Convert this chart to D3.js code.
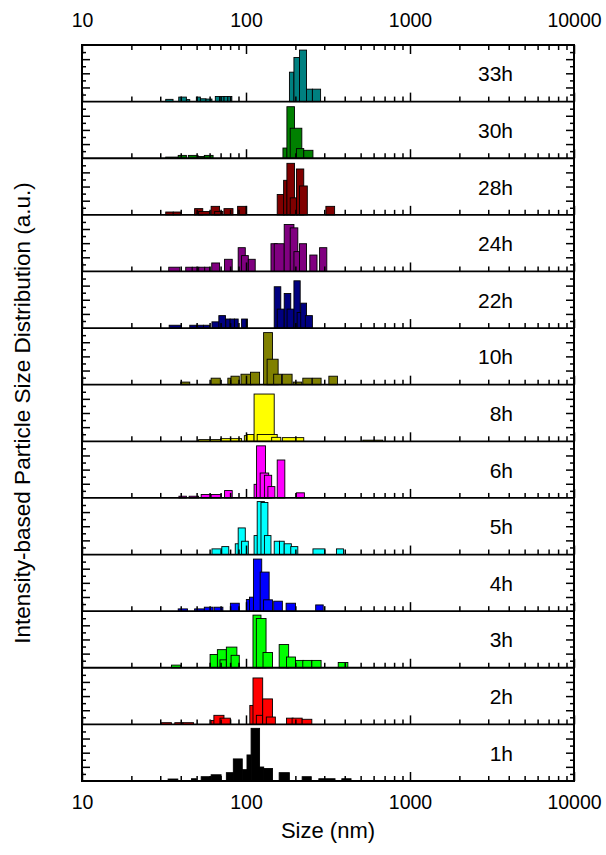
<!DOCTYPE html>
<html>
<head>
<meta charset="utf-8">
<script src="https://cdn.jsdelivr.net/npm/d3@7"></script>
<style>
  body { margin: 0; background: #fff; }
  svg { font-family: Arial, "Liberation Sans", sans-serif; }
</style>
</head>
<body>
<div id="chart"></div>
<script>
// panel order top -> bottom
const times = ["33h", "30h", "28h", "24h", "22h", "10h", "8h", "6h", "5h", "4h", "3h", "2h", "1h"];
const colors = ["#008080", "#008000", "#800000", "#800080", "#000080", "#808000", "#ffff00",
  "#ff00ff", "#00ffff", "#0000ff", "#00ff00", "#ff0000", "#000000"];
const xLabels = [10, 100, 1000, 10000];

// each bar: [size from (nm), size to (nm), intensity (a.u.)]
const bars33h = [[32.4, 35.9, 4], [38.9, 43.3, 8], [43.3, 45.4, 3.5], [49.8, 52.7, 8], [52.7, 57, 5], [57, 62, 4.5],
  [65, 69, 9], [69, 73.5, 9], [73.5, 77.5, 9], [77.5, 82, 9],
  [225, 254, 22], [254, 285, 22], [184, 196, 52], [196, 212, 78], [212, 234, 91]];
const bars30h = [[32.4, 38.6, 2], [38.6, 43.3, 5], [44.5, 51, 5], [51, 56, 3], [55.7, 63, 5],
  [168, 178, 18], [177.6, 197.5, 91], [186, 219, 53], [203, 225, 17], [225, 256, 14]];
const bars28h = [[32.4, 36, 5], [36, 40, 5], [48.6, 54.5, 11], [51.4, 60, 6], [61.3, 69, 15], [64.4, 72.3, 6],
  [73.4, 83.3, 11], [88.9, 100, 15],
  [155, 171, 36], [169.6, 178, 61], [177.6, 197.5, 91], [186, 207, 30], [203, 225, 81], [212, 236.5, 51], [307, 347, 15]];
const bars24h = [[33.8, 39.5, 7.5], [42.9, 47, 7.5], [47, 51.5, 7.5], [51.5, 56, 7.5], [56, 60, 7.5], [61.8, 69, 15],
  [74, 82.4, 21.5], [89.6, 99, 42], [94, 103.3, 28], [103.3, 113.8, 21.5],
  [142, 155, 49], [148.6, 171, 49], [171, 196, 83], [186, 207, 77], [196, 214, 35], [212, 234, 49], [245, 271, 29], [281, 311, 42]];
const bars22h = [[34, 40.4, 5], [45.4, 50, 5], [50, 55, 5], [55, 60, 5], [62, 69, 11], [68.3, 75, 22],
  [75.3, 80, 16], [80, 85, 16], [85, 89.6, 16], [94, 102, 16],
  [148.6, 163, 73], [155, 171, 33.5], [171, 187.5, 61], [178, 196, 33.5], [196, 214, 83.5], [205, 222, 27.6],
  [215.6, 234, 44], [230, 254, 22]];
const bars10h = [[40, 45.4, 4.6], [61.3, 69.7, 11.5], [77.5, 81, 11.5], [81, 91, 15], [93.2, 107.4, 18.5], [106.5, 121, 22],
  [128, 145, 92], [134.5, 157, 45], [147.5, 164.6, 18.5], [166.6, 191, 18.5], [194, 219, 4.6], [222, 252, 11.5],
  [254, 287, 11.5], [320, 361, 15]];
const bars8h = [[51.4, 70, 3], [70, 94, 4.7], [97.7, 102, 10], [101.4, 112, 12], [112, 148.6, 83.5], [117, 155, 12],
  [143.4, 163, 7], [166.6, 225, 6.5], [516, 681, 2]];
const bars6h = [[39, 43.3, 3], [45, 51.4, 3], [53.3, 61.3, 6], [61.3, 70.5, 6], [74, 82.4, 13], [112, 120, 24],
  [116, 131.5, 92], [122, 137.6, 44], [129.5, 143.4, 40], [136, 150, 20], [155, 172.5, 67], [203, 227, 9]];
const bars5h = [[62, 71.2, 10], [71.2, 78.5, 14], [86, 91, 19], [89.6, 99, 47], [94, 103.3, 23.5], [112, 120, 33.5],
  [117, 129.5, 93.5], [123.4, 136, 92], [129.5, 142, 33.5], [148.6, 160, 23.5], [160, 171, 23.5], [171, 189, 19],
  [187.5, 207, 14], [256, 303, 10], [356, 393, 10]];
const bars4h = [[38.6, 44, 4], [48.6, 55.7, 4], [55.7, 63, 7], [64, 72.3, 7], [80.3, 91, 14], [100.5, 107.4, 20.5],
  [105, 113.8, 24.7], [111, 124.7, 92], [122, 138.4, 69], [128, 145, 20], [147.5, 166.6, 17.6], [175.6, 200.5, 14],
  [266, 295.7, 11]];
const bars3h = [[35.1, 40, 4.7], [60.4, 67.7, 23.5], [66.9, 75.9, 32], [69.4, 75.9, 14], [75.9, 88, 36.5], [81.1, 91, 22],
  [110.3, 123.4, 93], [115.6, 132.5, 87], [127, 145, 27], [159.3, 182, 41], [176.5, 200.5, 19], [200.5, 225, 13],
  [222, 252, 13], [252, 287, 13], [365, 418, 9.4]];
const bars2h = [[30.5, 35.1, 3], [36.8, 41.3, 3], [41.3, 47.9, 3], [61.3, 64.4, 7], [63.7, 73.4, 16], [69.4, 80.3, 11],
  [105.5, 111, 33.5], [110.3, 126.4, 82], [115.6, 126.4, 16], [126.4, 145, 45], [133, 151, 13], [176.5, 194, 11],
  [191, 220, 11], [220, 252, 9]];
const bars1h = [[33.5, 38.4, 3.5], [46.5, 49.8, 4], [53.3, 61.3, 7.6], [61.3, 70.5, 11], [75.9, 83.7, 14.7],
  [83.7, 94.9, 39], [94.9, 101.4, 20], [101.4, 107.4, 46], [107.4, 121, 93], [121, 128.2, 24.7], [128.2, 145, 22],
  [159.3, 183.8, 14.7], [220, 250, 7.6], [278, 349, 4], [384, 437, 4]];

const series = [bars33h, bars30h, bars28h, bars24h, bars22h, bars10h, bars8h,
  bars6h, bars5h, bars4h, bars3h, bars2h, bars1h];

const W = 606, H = 855;
const margin = { top: 45, right: 32, bottom: 74, left: 82 };
const plotH = H - margin.top - margin.bottom;
const panelH = plotH / times.length;

const svg = d3.select("#chart").append("svg")
  .attr("width", W)
  .attr("height", H);

const x = d3.scaleLog().domain([10, 10000]).range([margin.left, W - margin.right]);
const y = d3.scaleLinear().domain([0, 100]).range([panelH, 0]);

const minorX = x.ticks().filter((d) => !xLabels.includes(d));

times.forEach((t, i) => {
  const g = svg.append("g").attr("transform", `translate(0,${margin.top + i * panelH})`);

  // bars
  g.selectAll("rect.bar")
    .data(series[i])
    .join("rect")
    .attr("class", "bar")
    .attr("x", (d) => x(d[0]))
    .attr("width", (d) => x(d[1]) - x(d[0]))
    .attr("y", (d) => y(d[2]))
    .attr("height", (d) => y(0) - y(d[2]))
    .attr("fill", colors[i])
    .attr("stroke", "#000")
    .attr("stroke-width", 0.9);

  // x ticks pointing up from panel bottom
  g.append("g")
    .attr("transform", `translate(0,${panelH})`)
    .call(d3.axisTop(x).tickValues(xLabels).tickSize(9).tickFormat(""))
    .call((a) => a.select(".domain").remove())
    .selectAll("line").attr("stroke-width", 1.5);
  g.append("g")
    .attr("transform", `translate(0,${panelH})`)
    .call(d3.axisTop(x).tickValues(minorX).tickSize(5).tickFormat(""))
    .call((a) => a.select(".domain").remove())
    .selectAll("line").attr("stroke-width", 1.5);

  // y ticks, left and right
  [[d3.axisRight, margin.left], [d3.axisLeft, W - margin.right]].forEach(([ax, pos]) => {
    g.append("g")
      .attr("transform", `translate(${pos},0)`)
      .call(ax(y).tickValues([25, 50, 75]).tickSize(8).tickFormat(""))
      .call((a) => a.select(".domain").remove())
      .selectAll("line").attr("stroke-width", 1.5);
    g.append("g")
      .attr("transform", `translate(${pos},0)`)
      .call(ax(y).tickValues([12.5, 37.5, 62.5, 87.5]).tickSize(4).tickFormat(""))
      .call((a) => a.select(".domain").remove())
      .selectAll("line").attr("stroke-width", 1.5);
  });

  // panel baseline
  g.append("line")
    .attr("x1", margin.left).attr("x2", W - margin.right)
    .attr("y1", panelH).attr("y2", panelH)
    .attr("stroke", "#000").attr("stroke-width", 1.8);

  g.append("text")
    .attr("x", 513)
    .attr("y", panelH / 2 + 8)
    .attr("text-anchor", "end")
    .attr("font-size", 21)
    .text(t);
});

// ticks pointing down from the top frame
svg.append("g")
  .attr("transform", `translate(0,${margin.top})`)
  .call(d3.axisBottom(x).tickValues(xLabels).tickSize(9).tickFormat(""))
  .call((a) => a.select(".domain").remove())
  .selectAll("line").attr("stroke-width", 1.5);
svg.append("g")
  .attr("transform", `translate(0,${margin.top})`)
  .call(d3.axisBottom(x).tickValues(minorX).tickSize(5).tickFormat(""))
  .call((a) => a.select(".domain").remove())
  .selectAll("line").attr("stroke-width", 1.5);

// tick labels top and bottom
svg.append("g")
  .attr("transform", `translate(0,${margin.top})`)
  .call(d3.axisTop(x).tickValues(xLabels).tickSize(0).tickPadding(18).tickFormat(d3.format("d")))
  .call((a) => a.select(".domain").remove())
  .selectAll("text").attr("font-size", 19.5).attr("fill", "#000");
svg.append("g")
  .attr("transform", `translate(0,${margin.top + plotH})`)
  .call(d3.axisBottom(x).tickValues(xLabels).tickSize(0).tickPadding(14).tickFormat(d3.format("d")))
  .call((a) => a.select(".domain").remove())
  .selectAll("text").attr("font-size", 19.5).attr("fill", "#000");

// frame
svg.append("rect")
  .attr("x", margin.left).attr("y", margin.top)
  .attr("width", W - margin.left - margin.right).attr("height", plotH)
  .attr("fill", "none").attr("stroke", "#000").attr("stroke-width", 2);

// axis titles
svg.append("text")
  .attr("x", (margin.left + W - margin.right) / 2)
  .attr("y", 838)
  .attr("text-anchor", "middle")
  .attr("font-size", 22)
  .text("Size (nm)");
svg.append("text")
  .attr("transform", `translate(30,${margin.top + plotH / 2}) rotate(-90)`)
  .attr("text-anchor", "middle")
  .attr("font-size", 22.5)
  .text("Intensity-based Particle Size Distribution (a.u.)");
</script>
</body>
</html>
